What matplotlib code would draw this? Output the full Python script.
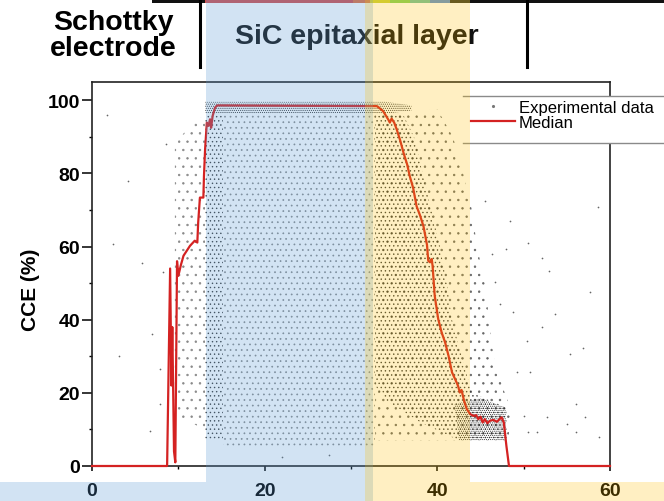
import matplotlib
matplotlib.use("Agg")
import matplotlib.pyplot as plt
import matplotlib.transforms as mtransforms
from matplotlib.patches import Rectangle, Polygon
from matplotlib.lines import Line2D
from matplotlib.ticker import MultipleLocator

plt.rcParams['font.family'] = ['Liberation Sans', 'DejaVu Sans']
plt.rcParams['hatch.linewidth'] = 0.5

# median CCE (%) against depth (um)
depth = [0, 8.7, 9.05, 9.2, 9.3, 9.5, 9.65, 9.85, 10.0, 10.3, 10.6, 11.35, 11.9, 12.2,
         12.3, 12.5, 12.9, 12.97, 13.1, 13.3, 13.5, 13.67, 13.8, 13.97, 14.25, 14.5,
         33.0, 33.7, 34.3, 34.5, 34.7, 35.0, 35.3, 35.7, 36.1, 36.5, 36.8, 37.2, 37.6,
         38.0, 38.4, 38.8, 38.95, 39.15, 39.35, 39.45, 39.7, 40.1, 40.5, 40.9, 41.3,
         41.7, 42.05, 42.4, 42.6, 42.8, 43.1, 43.4, 43.8, 44.2, 44.5, 44.75, 45.0,
         45.25, 45.5, 45.8, 46.1, 46.5, 46.9, 47.2, 47.45, 47.7, 48.0, 48.3, 60]
median = [0, 0, 54, 22, 38, 4, 1, 56, 52, 55, 57.5, 60.2, 61.6, 61.1,
          66.6, 73.4, 73.4, 79.3, 86.6, 93.9, 93, 94.8, 92.5, 95.7, 98, 98.6,
          98.4, 97.1, 94.8, 93.9, 95, 93.9, 92, 89, 85.5, 82.5, 79.3, 76, 71,
          68.5, 65.5, 60.5, 56.1, 55.7, 56.6, 54.7, 46.5, 40.2, 36.5, 33.8, 30.1,
          25.6, 23.8, 21.9, 20.1, 20.8, 17.8, 15.6, 14.2, 13.7, 13.9, 12.8, 13.5,
          11.9, 12.8, 11.7, 12.4, 12.6, 12.1, 12.8, 13.3, 11.9, 5.5, 0, 0]

# outlines of the point cloud (depth, CCE)
shelf_x = [13.1, 34.0, 37.0]
shelf_lo = [96.3, 96.3, 97.2]
shelf_hi = [99.6, 99.6, 98.6]

column_x = [13.1, 15.2]
column_lo = [7, 7]
column_hi = [96.3, 96.3]

epi_x = [15.2, 32.8]
epi_lo = [5, 5]
epi_hi = [96.3, 96.3]

front_x = [9.6, 11.3, 13.1]
front_lo = [14, 12, 10]
front_hi = [88, 93, 96]

core_x = [32.8, 36.0, 37.3, 38.3, 39.3, 40.3, 41.1, 41.7, 42.8, 44.0, 48.0, 48.0, 42.5, 38.0, 34.0, 32.8]
core_y = [96.3, 96.3, 90, 80, 70, 60, 50, 40, 30, 20, 16, 7, 7, 12, 18, 22]

tail_x = [32.8, 40.0, 41.8, 43.0, 44.0, 44.6, 45.5, 46.0, 46.5, 47.8, 48.6, 48.2, 32.8]
tail_y = [96.3, 97.5, 90, 80, 70, 60, 50, 40, 30, 20, 15, 7, 7]

cluster_x = [42.0, 45.0, 47.9, 48.0, 42.5]
cluster_y = [17, 18.5, 16, 7, 7]

# scattered single points
stray_x = [1.7, 2.4, 5.75, 6.9, 7.9, 6.7, 7.9, 8.2, 45.5, 48.4, 50.5, 52.1, 52.9, 57.7,
           58.6, 53.6, 52.1, 50.4, 55.4, 56.9, 48.0, 46.3, 48.8, 47.3, 50.7, 52.7, 55.0,
           56.1, 57.1, 58.7, 56.1, 50.0, 50.5, 51.5, 49.2, 46.7, 4.2, 3.1, 8.6, 27.5, 22.0]
stray_y = [96, 60.6, 55.6, 36, 17, 9.6, 26.5, 53, 72.5, 67, 61, 57, 53.4, 47.5,
           70.7, 41.5, 37.9, 34.2, 30.6, 32.2, 59.3, 57.9, 42, 44.3, 25.6, 13.3, 11.5,
           16.9, 13.3, 7.8, 9.2, 13.7, 9.2, 9.2, 25.6, 50.2, 78, 30, 88, 3, 2.5]

epi_band = (13.2, 32.6)
depletion_band = (31.6, 43.8)

# cut-off colour map strip above the panel
strip_colors = ['#111111', '#d05050', '#e07040', '#c8d040', '#80d060', '#70c0a0',
                '#6090d0', '#3a3a28', '#111111']
strip_edges = [152, 205, 353, 370, 390, 410, 430, 450, 470, 664]

W, H = 664, 502
red = '#d42222'
dots = '#3c3c3c'


def fx(px):
    return px / W


def fy(py):
    return 1 - py / H


fig = plt.figure(figsize=(W / 100, H / 100), dpi=100)
ax = fig.add_axes([fx(92), fy(467), fx(610) - fx(92), fy(83) - fy(467)])

ax.fill_between(shelf_x, shelf_lo, shelf_hi, facecolor='none', edgecolor='#333333',
                hatch='.' * 8, linewidth=0, zorder=1)
ax.fill_between(column_x, column_lo, column_hi, facecolor='none', edgecolor=dots,
                hatch='.' * 4, linewidth=0, zorder=1)
ax.fill_between(epi_x, epi_lo, epi_hi, facecolor='none', edgecolor='#8a8a8a',
                hatch='.' * 3, linewidth=0, zorder=1)
ax.fill_between(front_x, front_lo, front_hi, facecolor='none', edgecolor='#888888',
                hatch='.' * 2, linewidth=0, zorder=1)
for px_, py_, n, c in [(tail_x, tail_y, 2, '#666666'), (core_x, core_y, 4, dots),
                       (cluster_x, cluster_y, 8, '#333333')]:
    ax.add_patch(Polygon(list(zip(px_, py_)), closed=True, facecolor='none',
                         edgecolor=c, hatch='.' * n, linewidth=0, zorder=1))
ax.scatter(stray_x, stray_y, s=1.5, color='#666666', linewidths=0, zorder=1.5)

ax.plot(depth, median, color=red, lw=1.6, zorder=3, clip_on=False)

ax.set_xlim(0, 60)
ax.set_ylim(0, 105)
ax.set_xticks([0, 20, 40, 60])
ax.set_yticks([0, 20, 40, 60, 80, 100])
ax.xaxis.set_minor_locator(MultipleLocator(10))
ax.yaxis.set_minor_locator(MultipleLocator(10))
ax.tick_params(axis='y', which='major', length=7, width=1.1, pad=1.5, labelsize=14)
ax.tick_params(axis='y', which='minor', length=2.5, width=1.0)
ax.tick_params(axis='x', which='major', length=3.5, width=1.1, pad=8, labelsize=14)
ax.tick_params(axis='x', which='minor', length=2, width=1.0)
for lbl in ax.get_xticklabels() + ax.get_yticklabels():
    lbl.set_fontweight('bold')
for sp in ax.spines.values():
    sp.set_linewidth(1.2)
    sp.set_color('#222222')

ax.set_ylabel('CCE (%)', fontsize=15, fontweight='bold')
ax.yaxis.set_label_coords(-0.100, 0.461)

# legend box that runs off the right edge
fig.add_artist(Rectangle((fx(463), fy(144)), 1 - fx(463), fy(97) - fy(144),
                         transform=fig.transFigure, facecolor='white', edgecolor='none', zorder=4))
for yy in (97, 144):
    fig.add_artist(Line2D([fx(463), 1], [fy(yy), fy(yy)], transform=fig.transFigure,
                          color='#8a8a8a', lw=1.0, zorder=4.5))
handles = [Line2D([], [], ls='none', marker='.', ms=2.5, color='#777777'),
           Line2D([], [], color=red, lw=1.6)]
leg = fig.legend(handles, ['Experimental data', 'Median'], loc='upper left',
                 bbox_to_anchor=(fx(467), fy(97)), frameon=False, fontsize=12,
                 handlelength=2.6, handletextpad=0.25, labelspacing=0.0,
                 borderpad=0.25, borderaxespad=0)
leg.set_zorder(5)

# header above the panel
for i, col in enumerate(strip_colors):
    fig.add_artist(Rectangle((fx(strip_edges[i]), fy(4)), fx(strip_edges[i + 1]) - fx(strip_edges[i]),
                             4 / H, transform=fig.transFigure, facecolor=col,
                             edgecolor='none', zorder=2))
for xx in (200, 527):
    fig.add_artist(Line2D([fx(xx), fx(xx)], [fy(0), fy(68)], transform=fig.transFigure,
                          color='black', lw=2.2, zorder=3))
fig.text(fx(113), fy(36), 'Schottky\nelectrode', ha='center', va='center',
         fontsize=20.5, fontweight='bold', linespacing=0.95, color='black')
fig.text(fx(357), fy(37), 'SiC epitaxial layer', ha='center', va='center',
         fontsize=20.5, fontweight='bold', color='#111111')

# translucent region bands over everything
blend = mtransforms.blended_transform_factory(ax.transData, fig.transFigure)
for (x0, x1), col, a in [(epi_band, '#5b9bd5', 0.27), (depletion_band, '#ffc000', 0.24)]:
    fig.add_artist(Rectangle((x0, fy(483)), x1 - x0, 1 - fy(483), transform=blend,
                             facecolor=col, edgecolor='none', alpha=a, zorder=10))
fig.add_artist(Rectangle((0, 0), fx(373), fy(483), transform=fig.transFigure,
                         facecolor='#5b9bd5', edgecolor='none', alpha=0.27, zorder=10))
fig.add_artist(Rectangle((fx(365), 0), 1 - fx(365), fy(483), transform=fig.transFigure,
                         facecolor='#ffc000', edgecolor='none', alpha=0.24, zorder=10))

fig.savefig('out.png', dpi=100)
